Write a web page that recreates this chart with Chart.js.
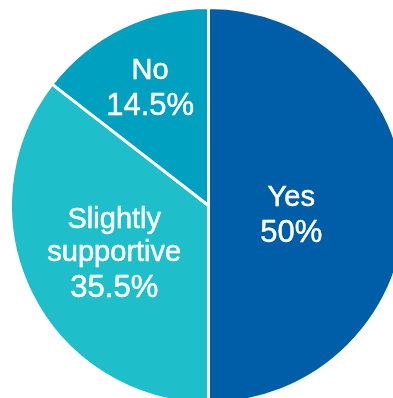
<!DOCTYPE html>
<html>
<head>
<meta charset="utf-8">
<script src="https://cdn.jsdelivr.net/npm/chart.js@4.4.1/dist/chart.umd.min.js"></script>
<style>
  html, body { margin: 0; padding: 0; background: #fff; overflow: hidden; }
  body { width: 393px; height: 398px; position: relative; }
  #wrap { position: absolute; left: 9px; top: 6px; width: 399px; height: 399px; }
</style>
</head>
<body>
<div id="wrap"><canvas id="pie"></canvas></div>
<script>
// survey answers, clockwise from the top
const categories = ["Yes", "Slightly supportive", "No"];
const shares = [50, 35.5, 14.5];
const sliceColors = ["#005DA8", "#1EBFCA", "#00A0C0"];

// label block placement: fraction of the radius and a small turn off the mid angle
const labelDist = [0.42, 0.53, 0.67];
const labelTurn = [0.1, 0, 0];

// draws the category name and share inside each slice
const sliceLabels = {
  id: "sliceLabels",
  afterDatasetsDraw(chart) {
    const ctx = chart.ctx;
    const meta = chart.getDatasetMeta(0);
    ctx.save();
    ctx.fillStyle = "#fff";
    ctx.strokeStyle = "#fff";
    ctx.lineWidth = 0.5;
    ctx.lineJoin = "round";
    ctx.textAlign = "center";
    ctx.textBaseline = "alphabetic";
    const put = (t, x, y) => { ctx.fillText(t, x, y); ctx.strokeText(t, x, y); };
    meta.data.forEach((arc, i) => {
      const p = arc.getProps(["x", "y", "startAngle", "endAngle", "outerRadius"], true);
      const mid = (p.startAngle + p.endAngle) / 2 + labelTurn[i];
      const cx = p.x + Math.cos(mid) * p.outerRadius * labelDist[i];
      const cy = p.y + Math.sin(mid) * p.outerRadius * labelDist[i];
      const words = chart.data.labels[i].split(" ");
      const lineStep = 33, valueStep = 36, capH = 21;
      const blockH = capH + (words.length - 1) * lineStep + valueStep;
      let y = cy - blockH / 2 + capH;
      ctx.font = "29px 'Liberation Sans', Arial, sans-serif";
      words.forEach((w, k) => {
        put(w, cx, y);
        if (k < words.length - 1) y += lineStep;
      });
      y += valueStep;
      ctx.font = "31px 'Liberation Sans', Arial, sans-serif";
      put(chart.data.datasets[0].data[i] + "%", cx, y);
    });
    ctx.restore();
  }
};

new Chart(document.getElementById("pie"), {
  type: "pie",
  data: {
    labels: categories,
    datasets: [{
      data: shares,
      backgroundColor: sliceColors,
      borderColor: "#fff",
      borderWidth: 3
    }]
  },
  options: {
    responsive: true,
    maintainAspectRatio: false,
    animation: false,
    layout: { padding: 0 },
    plugins: {
      legend: { display: false },
      tooltip: { enabled: false }
    }
  },
  plugins: [sliceLabels]
});
</script>
</body>
</html>
